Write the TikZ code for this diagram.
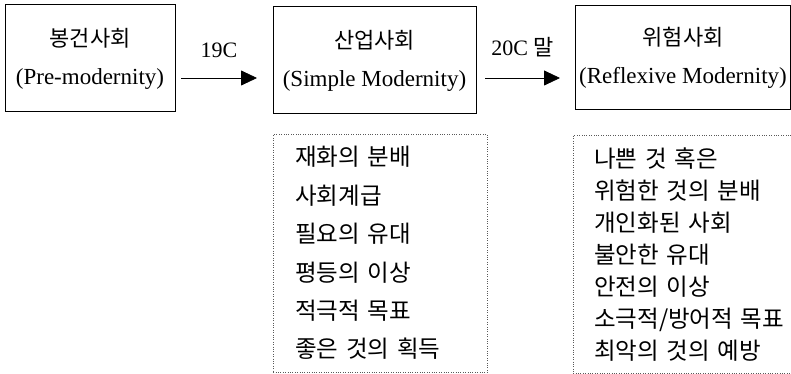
\documentclass[tikz,border=0pt]{standalone}
\usepackage{fontspec}
\setmainfont{Liberation Serif}
\newfontfamily\kor{Noto Sans CJK KR}
\usetikzlibrary{arrows.meta}

\begin{document}
\begin{tikzpicture}[x=1pt, y=-1pt]

    \useasboundingbox (0, 0) rectangle (791, 374);

    % Declare the societies
    \node[draw, line width=1pt, minimum width=170pt, minimum height=107pt, align=center, font=\fontsize{23}{38}\selectfont] at (90, 58.5) (S0) {{\kor\fontsize{22}{38}\selectfont 봉건사회}\\(Pre-modernity)};
    \node[draw, line width=1pt, minimum width=203pt, minimum height=107pt, align=center, font=\fontsize{23}{38}\selectfont] at (374.5, 60.5) (S1) {{\kor\fontsize{22}{38}\selectfont 산업사회}\\(Simple Modernity)};
    \node[draw, line width=1pt, minimum width=214pt, minimum height=104pt, align=center, font=\fontsize{23}{38}\selectfont] at (683, 58) (S2) {{\kor\fontsize{22}{38}\selectfont 위험사회}\\(Reflexive Modernity)};

    % Declare the lists
    \node[draw, dotted, gray!70!black, text=black, anchor=north west, minimum width=200pt, minimum height=238pt, text width=170pt, inner xsep=22pt, align=left, font=\kor\fontsize{23.5}{38.4}\selectfont] at (273, 134) (L1) {재화의 분배\\사회계급\\필요의 유대\\평등의 이상\\적극적 목표\\좋은 것의 획득};
    \node[draw, dotted, gray!70!black, text=black, anchor=north west, minimum width=217pt, minimum height=238pt, text width=195pt, inner xsep=21pt, align=left, font=\kor\fontsize{23.5}{32}\selectfont] at (573, 135) (L2) {나쁜 것 혹은\\위험한 것의 분배\\개인화된 사회\\불안한 유대\\안전의 이상\\소극적/방어적 목표\\최악의 것의 예방};

    % Declare edges
    \draw[-{Triangle[length=16pt, width=15pt]}, line width=0.8pt] (181, 78) -- (257, 78) node[midway, above=17pt, font=\fontsize{22}{24}\selectfont] (E1) {19C};
    \draw[-{Triangle[length=16pt, width=15pt]}, line width=0.8pt] (485, 78) -- (560, 78) node[midway, above=17pt, font=\fontsize{22}{24}\selectfont] (E2) {20C {\kor 말}};

\end{tikzpicture}
\end{document}
